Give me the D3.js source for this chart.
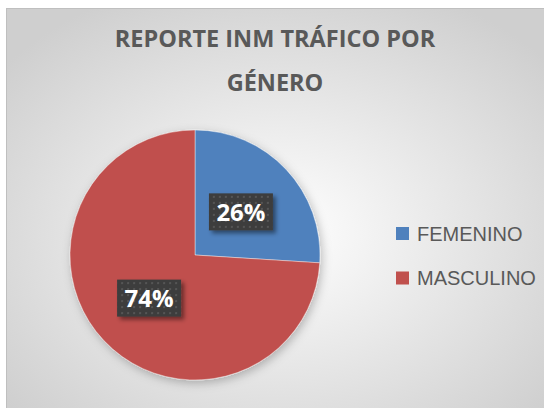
<!DOCTYPE html>
<html>
<head>
<meta charset="utf-8">
<script src="https://cdn.jsdelivr.net/npm/d3@7"></script>
<style>
  html, body { margin: 0; padding: 0; background: #ffffff; }
  svg { display: block; }
</style>
</head>
<body>
<div id="chart"></div>
<script>
// Chart data
const categories = ["FEMENINO", "MASCULINO"];
const values = [26, 74];
const colors = ["#4F81BD", "#C0504D"];
const titleLines = ["REPORTE INM TRÁFICO POR", "GÉNERO"];

const width = 544, height = 408;

const svg = d3.select("#chart")
    .append("svg")
    .attr("width", width)
    .attr("height", height);

const defs = svg.append("defs");

// Background radial gradient (white center, gray edges)
const bg = defs.append("radialGradient")
    .attr("id", "bgGrad")
    .attr("cx", "50%").attr("cy", "55%").attr("r", "65%");
bg.append("stop").attr("offset", "0%").attr("stop-color", "#ffffff");
bg.append("stop").attr("offset", "100%").attr("stop-color", "#cfcfcf");

// Dotted dark pattern for the data labels
const pat = defs.append("pattern")
    .attr("id", "dots")
    .attr("width", 6).attr("height", 6)
    .attr("patternUnits", "userSpaceOnUse");
pat.append("rect").attr("width", 6).attr("height", 6).attr("fill", "#3d3d3d");
pat.append("rect").attr("x", 2).attr("y", 2).attr("width", 2).attr("height", 2).attr("fill", "#555555");

// Shadows
defs.append("filter").attr("id", "pieShadow")
    .attr("x", "-20%").attr("y", "-20%").attr("width", "140%").attr("height", "140%")
    .append("feDropShadow")
    .attr("dx", 2).attr("dy", 3).attr("stdDeviation", 5)
    .attr("flood-color", "#000").attr("flood-opacity", 0.25);

defs.append("filter").attr("id", "boxShadow")
    .attr("x", "-20%").attr("y", "-20%").attr("width", "150%").attr("height", "150%")
    .append("feDropShadow")
    .attr("dx", 3).attr("dy", 3).attr("stdDeviation", 2)
    .attr("flood-color", "#000").attr("flood-opacity", 0.45);

// Chart area background + border
svg.append("rect")
    .attr("x", 6.5).attr("y", 8.5)
    .attr("width", width).attr("height", height)
    .attr("fill", "url(#bgGrad)")
    .attr("stroke", "#bfbfbf")
    .attr("stroke-width", 1);

// Title
svg.append("text")
    .attr("x", 275)
    .attr("text-anchor", "middle")
    .style("font-family", "'Open Sans', 'Liberation Sans', sans-serif")
    .style("font-weight", "bold")
    .style("font-size", "23.5px")
    .attr("fill", "#595959")
    .selectAll("tspan")
    .data(titleLines)
    .join("tspan")
    .attr("x", 275)
    .attr("y", (d, i) => 47 + i * 44)
    .text(d => d);

// Pie
const cx = 195, cy = 255, radius = 125;
const pie = d3.pie().sort(null).value(d => d.value);
const arc = d3.arc().innerRadius(0).outerRadius(radius);
const labelArc = d3.arc().innerRadius(63).outerRadius(63);

const data = categories.map((c, i) => ({ name: c, value: values[i], color: colors[i] }));
const arcs = pie(data);

const g = svg.append("g").attr("transform", `translate(${cx},${cy})`);

g.append("g")
    .attr("filter", "url(#pieShadow)")
    .selectAll("path")
    .data(arcs)
    .join("path")
    .attr("d", arc)
    .attr("fill", d => d.data.color)
    .attr("stroke", "#ffffff")
    .attr("stroke-opacity", 0.5)
    .attr("stroke-width", 0.8);

// Data labels
const total = d3.sum(values);
const labels = g.selectAll(".lbl")
    .data(arcs)
    .join("g")
    .attr("class", "lbl")
    .attr("transform", d => `translate(${labelArc.centroid(d)})`);

labels.append("rect")
    .attr("x", -32).attr("y", -18.5)
    .attr("width", 64).attr("height", 37)
    .attr("fill", "url(#dots)")
    .attr("filter", "url(#boxShadow)");

labels.append("text")
    .attr("text-anchor", "middle")
    .attr("dy", "0.36em")
    .style("font-family", "'Open Sans', 'Liberation Sans', sans-serif")
    .style("font-weight", "bold")
    .style("font-size", "24px")
    .attr("fill", "#ffffff")
    .text(d => Math.round(d.data.value / total * 100) + "%");

// Legend
const legendY = d3.scalePoint().domain(categories).range([233.5, 278]);
const legend = svg.append("g")
    .selectAll("g")
    .data(data)
    .join("g")
    .attr("transform", d => `translate(396,${legendY(d.name)})`);

legend.append("rect")
    .attr("x", 0).attr("y", -6.5)
    .attr("width", 13).attr("height", 13)
    .attr("fill", d => d.color);

legend.append("text")
    .attr("x", 21)
    .attr("dy", "0.36em")
    .style("font-family", "'Liberation Sans', Arial, sans-serif")
    .style("font-size", "20px")
    .attr("fill", "#595959")
    .text(d => d.name);
</script>
</body>
</html>
